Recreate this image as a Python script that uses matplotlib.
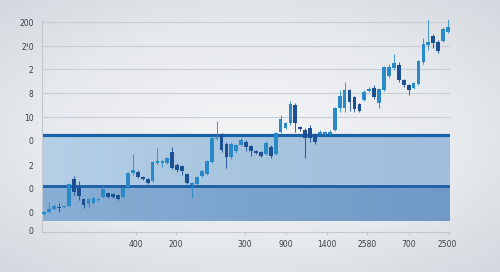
import numpy as np
import matplotlib
matplotlib.use("Agg")
import matplotlib.pyplot as plt
from matplotlib.colors import LinearSegmentedColormap

# ---- data (price units) ----
opens = [16, 18, 21, 23, 23, 24, 51, 43, 31, 26, 27, 30, 33, 37, 36, 35, 33, 43, 57, 58,
         53, 51, 49, 67, 67.5, 67, 78, 65, 64, 56, 45, 46, 54, 56, 68, 91, 95, 86, 73, 79,
         85, 88, 84, 78.5, 78, 76, 83, 76, 98, 102, 107, 125, 103, 100, 102, 96, 96.5, 96, 96, 100,
         122, 122, 140, 133, 126, 130, 139, 142, 127, 140, 154, 162, 165, 150, 145, 142, 146, 168, 185, 194,
         188, 189, 198]
closes = [18, 21, 24, 22, 23.5, 46, 38, 34, 25, 31, 32, 31, 41, 33, 33, 31, 42, 57, 60, 53,
          51, 47, 68, 69, 68, 72, 62, 60, 59, 47, 47, 53, 59, 69, 92, 92.5, 80, 73, 86, 85,
          90, 83, 79, 77.5, 74, 87, 74, 97, 111, 107, 126, 107, 101, 92, 92, 88, 97, 98, 98, 122,
          134, 140, 128, 121, 119, 138, 141, 133, 141, 163, 163, 167, 150, 145, 140, 147, 169, 186, 188, 187,
          179, 201, 203]
highs = [19, 28, 26, 27, 24, 47, 54, 49, 32, 32, 33, 32, 45, 38, 37, 36, 43, 58, 76, 60,
         54, 52, 69, 82, 70, 73, 83, 67, 65, 57, 48, 54, 60, 70, 93, 109, 97, 88, 88, 86,
         92, 90, 85, 80, 79, 89, 85, 98, 115, 108, 129, 127, 104, 102, 105, 97, 100, 99, 100, 123,
         140, 148, 141, 134, 127, 140, 143, 145, 142, 164, 166, 176, 168, 151, 146, 148, 170, 192, 213, 196,
         190, 203, 211]
lows = [15, 17, 20, 18, 22, 23, 35, 30, 22, 23, 26, 29, 32, 32, 32, 30, 32, 42, 55, 52,
        50, 46, 48, 66, 63, 66, 61, 58, 55, 46, 32, 45, 53, 55, 67, 90, 78, 62, 71, 77,
        84, 79, 74, 76, 73, 75, 72, 75, 97, 101, 105, 98, 99, 72, 88, 86, 95, 95, 95, 99,
        118, 118, 119, 118, 118, 129, 138, 131, 122, 139, 152, 160, 148, 143, 135, 141, 145, 166, 180, 182,
        177, 188, 197]

x_tick_labels = ["400", "200", "300", "900", "1400", "2580", "700", "2500"]
y_tick_values = [208, 184, 161, 137, 113, 90, 65, 42, 18, 0]
y_tick_labels = ["200", "2!0", "2", "8", "10", "0", "2", "0", "0", "0"]
grid_values = [208, 184, 161, 137, 113]
band_top, band_mid, band_bottom = 95, 44, 9

# ---- layout ----
n = len(opens)
idx = np.arange(n)
x_tick_pos = [18.7, 26.8, 40.8, 49.1, 57.4, 65.5, 74.0, 81.9]

fig = plt.figure(figsize=(5.0, 2.72), dpi=100)

# background vignette
bg = fig.add_axes([0, 0, 1, 1], zorder=-10)
yy, xx = np.mgrid[-1:1:272j, -1:1:500j]
r = np.sqrt((xx * 0.85) ** 2 + (yy * 0.9) ** 2)
bg_cmap = LinearSegmentedColormap.from_list("bg", ["#f0f2f4", "#e6e9ed", "#d3d8de"])
bg.imshow(r, cmap=bg_cmap, aspect="auto", extent=[0, 1, 0, 1], vmin=0.2, vmax=1.25)
bg.set_axis_off()

ax = fig.add_axes([0.084, 0.147, 0.816, 0.779])
ax.patch.set_alpha(0)
xmin, xmax = -0.45, 82.4
ax.set_xlim(xmin, xmax)
ax.set_ylim(-2, 210)

# gridlines
for g in grid_values:
    ax.axhline(g, color="#c9ced4", lw=0.8, zorder=1)

# band with gradients
up_cmap = LinearSegmentedColormap.from_list("up", ["#b4cfe6", "#a8c5df", "#a0bfdc"])
lo_cmap = LinearSegmentedColormap.from_list("lo", ["#88afd5", "#7ba4cd", "#7099c6"])
grad = np.linspace(0, 1, 256).reshape(1, -1)
ax.imshow(grad, cmap=up_cmap, aspect="auto", extent=[xmin, xmax, band_mid, band_top], zorder=1)
ax.imshow(grad, cmap=lo_cmap, aspect="auto", extent=[xmin, xmax, band_bottom, band_mid], zorder=1)
ax.axhline(band_top, color="#1a62a8", lw=2.3, zorder=2)
ax.axhline(band_mid, color="#1a5ea4", lw=2.0, zorder=2)

# candles
light = "#2a8ac8"
dark = "#1d4f93"
for i in range(n):
    o, c, h, l = opens[i], closes[i], highs[i], lows[i]
    col = light if c >= o else dark
    ax.vlines(idx[i], l, h, color=col, lw=0.75, alpha=0.85, zorder=3)
    lo_b, hi_b = min(o, c), max(o, c)
    ax.bar(idx[i], max(hi_b - lo_b, 1.2), bottom=lo_b, width=0.76, color=col, zorder=4)

# axes styling
for s in ["top", "right"]:
    ax.spines[s].set_visible(False)
ax.spines["left"].set_color("#c3c8ce")
ax.spines["left"].set_linewidth(0.8)
ax.spines["bottom"].set_color("#c3c8ce")
ax.spines["bottom"].set_linewidth(0.8)

ax.set_yticks(y_tick_values)
ax.set_yticklabels(y_tick_labels)
ax.set_xticks(x_tick_pos)
ax.set_xticklabels(x_tick_labels)
ax.tick_params(axis="y", length=0, pad=6, labelsize=5.5, labelcolor="#3a3f45")
ax.tick_params(axis="x", length=2, width=0.5, color="#b5bbc2", pad=4, labelsize=5.5, labelcolor="#3a3f45")

fig.savefig("out.png", dpi=100)
